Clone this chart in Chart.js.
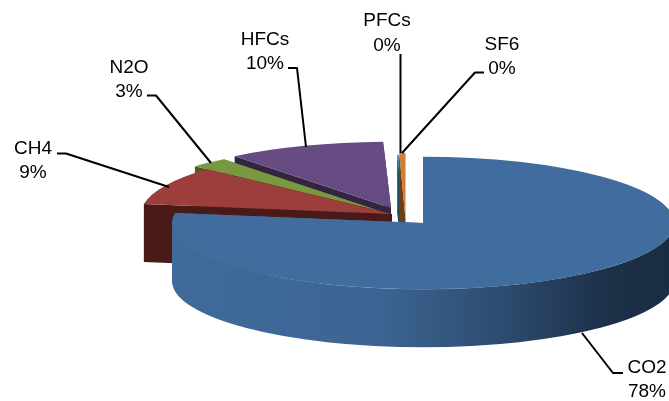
<!DOCTYPE html>
<html>
<head>
<meta charset="utf-8">
<style>
  html, body { margin: 0; padding: 0; background: #fff; overflow: hidden; }
  canvas { display: block; }
</style>
<script src="https://cdn.jsdelivr.net/npm/chart.js@4"></script>
</head>
<body>
<canvas id="pie" width="669" height="401"></canvas>
<script>
// values (the rounded labels are 78, 9, 3, 10, 0, 0)
var gases = ["CO2", "CH4", "N2O", "HFCs", "PFCs", "SF6"];
var shares = [77.4, 9.4, 2.5, 10.2, 0.1, 0.4];
var percentLabels = ["78%", "9%", "3%", "10%", "0%", "0%"];

// look of the 3d pie
var topColors = ["#416D9E", "#9C3F3C", "#7A983F", "#664C82", "#3A8296", "#CC7F36"];
var wallColors = ["#1B2E45", "#4A1A18", "#4A5C26", "#332542", "#235060", "#6A4018"];
var sliceApex = [[423, 223], [392, 214], [380, 211], [391, 208], [405, 221], [405.5, 219]];
var paintOrder = [4, 5, 3, 2, 1, 0];
var flatten = 0.264;
var depth = 58;
var pieRadius = 251;

// label layout: [center x, first baseline, second baseline], then the leader
var labelPos = [[647, 373, 397], [33, 154, 177.5], [129, 73, 97], [265, 45, 69], [387, 26, 51], [502, 50, 74]];
var leaders = [
  [[623, 373], [613, 373], [582, 333]],
  [[57, 153.5], [66, 153.5], [169, 187]],
  [[147, 95.5], [156, 95.5], [211, 163]],
  [[288, 68], [297, 68], [306, 147]],
  [[400.5, 54], [400.5, 153]],
  [[484, 72.5], [475, 72.5], [402, 153]]
];

var drawWalls = function(ctx, arc, i){
  var ax = sliceApex[i][0], ay = sliceApex[i][1];
  var rx = arc.outerRadius, ry = rx * flatten;
  var fill = wallColors[i];
  if (i === 0) {
    // the big slice gets darker towards the right
    fill = ctx.createLinearGradient(172, 0, 669, 0);
    fill.addColorStop(0, "#3F6A9A");
    fill.addColorStop(0.42, "#3C6593");
    fill.addColorStop(0.68, "#2C4A6C");
    fill.addColorStop(0.88, "#1C3048");
    fill.addColorStop(1, "#1A2C42");
  }
  ctx.fillStyle = fill;

  // cut faces
  [arc.startAngle, arc.endAngle].forEach(function(a){
    var ex = ax + Math.cos(a) * rx, ey = ay + Math.sin(a) * ry;
    ctx.beginPath();
    ctx.moveTo(ax, ay);
    ctx.lineTo(ex, ey);
    ctx.lineTo(ex, ey + depth);
    ctx.lineTo(ax, ay + depth);
    ctx.closePath();
    ctx.fill();
  });

  // outer rim, only the front half can be seen
  var from = Math.max(arc.startAngle, 0);
  var to = Math.min(arc.endAngle, Math.PI);
  if (to > from) {
    ctx.beginPath();
    ctx.ellipse(ax, ay, rx, ry, 0, from, to);
    ctx.ellipse(ax, ay + depth, rx, ry, 0, to, from, true);
    ctx.closePath();
    ctx.fill();
  }
};

var pie3d = {
  id: "pie3d",
  beforeDatasetDraw: function(chart){
    var ctx = chart.ctx;
    var arcs = chart.getDatasetMeta(0).data;
    paintOrder.forEach(function(i){
      var arc = arcs[i];
      drawWalls(ctx, arc, i);
      ctx.save();
      ctx.translate(sliceApex[i][0], sliceApex[i][1]);
      ctx.scale(1, flatten);
      ctx.translate(-arc.x, -arc.y);
      arc.draw(ctx);
      ctx.restore();
    });
    return false;
  },
  afterDraw: function(chart){
    var ctx = chart.ctx;
    ctx.save();
    ctx.strokeStyle = "#000";
    ctx.lineWidth = 2;
    ctx.lineJoin = "round";
    leaders.forEach(function(points){
      ctx.beginPath();
      points.forEach(function(p, n){
        if (n === 0) ctx.moveTo(p[0], p[1]); else ctx.lineTo(p[0], p[1]);
      });
      ctx.stroke();
    });
    ctx.fillStyle = "#000";
    ctx.font = '19px "Liberation Sans"';
    ctx.textAlign = "center";
    ctx.textBaseline = "alphabetic";
    gases.forEach(function(name, i){
      ctx.fillText(name, labelPos[i][0], labelPos[i][1]);
      ctx.fillText(percentLabels[i], labelPos[i][0], labelPos[i][2]);
    });
    ctx.restore();
  }
};

var chart = new Chart(document.getElementById("pie"), {
  type: "pie",
  data: {
    labels: gases,
    datasets: [{
      data: shares,
      backgroundColor: topColors,
      borderWidth: 0
    }]
  },
  options: {
    responsive: false,
    animation: false,
    radius: pieRadius,
    layout: { padding: 0 },
    plugins: {
      legend: { display: false },
      tooltip: { enabled: false }
    }
  },
  plugins: [pie3d]
});
</script>
</body>
</html>
